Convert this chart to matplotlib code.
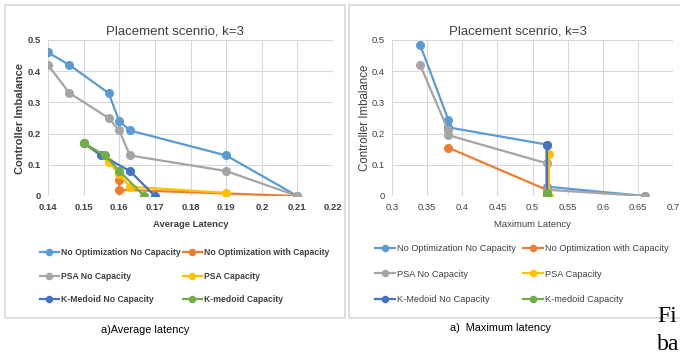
import matplotlib.pyplot as plt
from matplotlib.patches import Rectangle

# ---- data: average latency panel ----
avg_noopt_nocap_x = [0.14, 0.146, 0.157, 0.16, 0.163, 0.19, 0.21]
avg_noopt_nocap_y = [0.46, 0.42, 0.33, 0.24, 0.21, 0.13, 0.0]
avg_noopt_cap_x = [0.16, 0.16, 0.21]
avg_noopt_cap_y = [0.05, 0.02, 0.0]
avg_psa_nocap_x = [0.14, 0.146, 0.157, 0.16, 0.163, 0.19, 0.21]
avg_psa_nocap_y = [0.42, 0.33, 0.25, 0.21, 0.13, 0.08, 0.0]
avg_psa_cap_x = [0.15, 0.157, 0.16, 0.163, 0.19]
avg_psa_cap_y = [0.17, 0.11, 0.07, 0.03, 0.01]
avg_km_nocap_x = [0.15, 0.155, 0.163, 0.17]
avg_km_nocap_y = [0.17, 0.13, 0.08, 0.0]
avg_km_cap_x = [0.15, 0.156, 0.16, 0.167]
avg_km_cap_y = [0.17, 0.13, 0.08, 0.0]

# ---- data: maximum latency panel ----
max_noopt_nocap_x = [0.34, 0.38, 0.38, 0.52, 0.52, 0.66]
max_noopt_nocap_y = [0.485, 0.245, 0.22, 0.165, 0.03, 0.0]
max_noopt_cap_x = [0.38, 0.52, 0.52]
max_noopt_cap_y = [0.155, 0.02, 0.0]
max_psa_nocap_x = [0.34, 0.38, 0.38, 0.52, 0.52, 0.66]
max_psa_nocap_y = [0.42, 0.21, 0.195, 0.105, 0.02, 0.0]
max_psa_cap_x = [0.523, 0.523]
max_psa_cap_y = [0.135, 0.0]
max_km_nocap_x = [0.52, 0.52]
max_km_nocap_y = [0.165, 0.0]
max_km_cap_x = [0.52, 0.52]
max_km_cap_y = [0.01, 0.0]

labels = ["No Optimization No Capacity", "No Optimization with Capacity",
          "PSA No Capacity", "PSA Capacity",
          "K-Medoid No Capacity", "K-medoid Capacity"]
colors = ["#5B9BD5", "#ED7D31", "#A5A5A5", "#FFC000", "#4472C4", "#70AD47"]

avg_series = [(avg_noopt_nocap_x, avg_noopt_nocap_y), (avg_noopt_cap_x, avg_noopt_cap_y),
              (avg_psa_nocap_x, avg_psa_nocap_y), (avg_psa_cap_x, avg_psa_cap_y),
              (avg_km_nocap_x, avg_km_nocap_y), (avg_km_cap_x, avg_km_cap_y)]
max_series = [(max_noopt_nocap_x, max_noopt_nocap_y), (max_noopt_cap_x, max_noopt_cap_y),
              (max_psa_nocap_x, max_psa_nocap_y), (max_psa_cap_x, max_psa_cap_y),
              (max_km_nocap_x, max_km_nocap_y), (max_km_cap_x, max_km_cap_y)]

plt.rcParams["font.family"] = ["Liberation Sans", "DejaVu Sans"]

W, H = 680, 352
fig = plt.figure(figsize=(6.8, 3.52), dpi=100)


def fx(px):
    return px / W


def fy(py):
    return 1 - py / H


# chart borders
for left in (5, 349):
    fig.patches.append(Rectangle((fx(left), fy(318)), fx(340), 313 / H, transform=fig.transFigure,
                                 fill=False, edgecolor="#D9D9D9", linewidth=1.2))


def draw_panel(series, rect, xlim, xticks, xlabel, bold, title_x, ylab_x, ylab_size,
               leg_x, leg_y, leg_size, leg_spacing, col_spacing):
    ax = fig.add_axes(rect)
    weight = "bold" if bold else "normal"
    handles = []
    for (xs, ys), c, lab in zip(series, colors, labels):
        h, = ax.plot(xs, ys, "-o", color=c, lw=1.6, ms=5.5, label=lab)
        handles.append(h)
    ax.set_xlim(*xlim)
    ax.set_ylim(0, 0.5)
    ax.set_xticks(xticks)
    ax.set_xticklabels([f"{t:g}" for t in xticks], fontsize=6.8, fontweight=weight)
    ax.set_yticks([0, 0.1, 0.2, 0.3, 0.4, 0.5])
    ax.set_yticklabels(["0", "0.1", "0.2", "0.3", "0.4", "0.5"], fontsize=6.8, fontweight=weight)
    ax.grid(True, color="#D9D9D9", lw=0.8)
    ax.set_axisbelow(True)
    for s in ax.spines.values():
        s.set_visible(False)
    ax.tick_params(length=0, pad=5, colors="#404040")
    ax.set_xlabel(xlabel, fontsize=6.8, fontweight=weight, labelpad=6, color="#404040")
    fig.text(fx(title_x), fy(32), "Placement scenrio, k=3", fontsize=9.5,
             ha="center", va="center", color="#404040")
    fig.text(fx(ylab_x), fy(118), "Controller Imbalance", rotation=90, fontsize=ylab_size,
             fontweight=weight, ha="center", va="center", color="#404040")
    order = [0, 2, 4, 1, 3, 5]
    leg = fig.legend([handles[i] for i in order], [labels[i] for i in order], ncol=2,
                     loc="upper left", bbox_to_anchor=(fx(leg_x), fy(leg_y)), frameon=False,
                     prop={"size": leg_size, "weight": weight}, handlelength=2.2,
                     handletextpad=0.2, labelspacing=leg_spacing, columnspacing=col_spacing,
                     borderpad=0, borderaxespad=0, markerscale=0.8)
    for t in leg.get_texts():
        t.set_color("#404040")
    return ax


draw_panel(avg_series, [fx(48), fy(196), fx(285), 156 / H], (0.14, 0.22),
           [0.14, 0.15, 0.16, 0.17, 0.18, 0.19, 0.2, 0.21, 0.22], "Average Latency",
           True, 175, 20, 8, 40, 248, 6.2, 1.7, 0.3)
draw_panel(max_series, [fx(392), fy(196), fx(281), 156 / H], (0.3, 0.7),
           [0.3, 0.35, 0.4, 0.45, 0.5, 0.55, 0.6, 0.65, 0.7], "Maximum Latency",
           False, 518, 365, 8.3, 375, 244, 6.7, 1.8, 0.7)

fig.text(fx(145), fy(330), "a)Average latency", fontsize=7.8, ha="center", va="center")
fig.text(fx(500), fy(328), "a)  Maximum latency", fontsize=7.8, ha="center", va="center")
fig.text(fx(657), fy(316), "Fi", fontsize=17, family="Liberation Serif", ha="left", va="center")
fig.text(fx(657), fy(344), "ba", fontsize=17, family="Liberation Serif", ha="left", va="center")

fig.savefig("out.png", dpi=100)
